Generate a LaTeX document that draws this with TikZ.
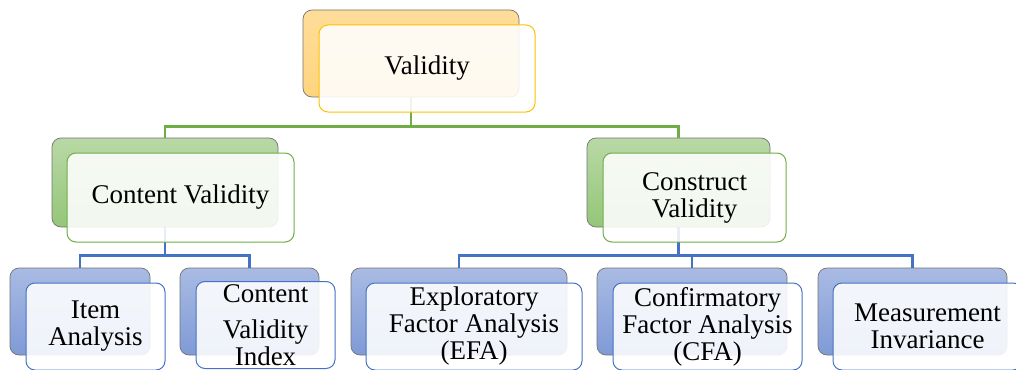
\documentclass[tikz,border=0pt]{standalone}
\usepackage{fontspec}
\setmainfont{Liberation Serif}
\definecolor{goldline}{HTML}{FFC000}
\definecolor{greenline}{HTML}{70AD47}
\definecolor{blueline}{HTML}{4472C4}
\definecolor{goldtop}{HTML}{FFDD99}
\definecolor{goldbot}{HTML}{FFD47F}
\definecolor{greentop}{HTML}{B9D8A6}
\definecolor{greenbot}{HTML}{94C678}
\definecolor{bluetop}{HTML}{A9BBE3}
\definecolor{bluebot}{HTML}{7F9AD6}
\tikzstyle{backbox} = [rectangle, rounded corners=9pt,
draw=black!55,
line width=0.7pt,
inner sep=0pt]
\tikzstyle{frontbox} = [rectangle, rounded corners=9pt,
line width=1pt,
fill=white,
fill opacity=0.88,
text opacity=1,
inner sep=0pt,
align=center,
font=\fontsize{27}{27}\selectfont]
\tikzstyle{goldback} = [backbox, top color=goldtop, bottom color=goldbot]
\tikzstyle{greenback} = [backbox, top color=greentop, bottom color=greenbot]
\tikzstyle{blueback} = [backbox, top color=bluetop, bottom color=bluebot]
\tikzstyle{goldfront} = [frontbox, draw=goldline]
\tikzstyle{greenfront} = [frontbox, draw=greenline]
\tikzstyle{bluefront} = [frontbox, draw=blueline]
\tikzstyle{greenlink} = [draw=greenline, line width=2.6pt]
\tikzstyle{bluelink} = [draw=blueline, line width=2.6pt]

\begin{document}
\begin{tikzpicture}[x=1pt, y=-1pt]
\useasboundingbox (0,0) rectangle (1016,369);

% back boxes
\node (valB) [goldback, minimum width=216pt, minimum height=87pt] at (411,53.5) {};
\node (cvB) [greenback, minimum width=226pt, minimum height=89pt] at (165,182.5) {};
\node (ctB) [greenback, minimum width=183pt, minimum height=89pt] at (678.5,182.5) {};
\node (itB) [blueback, minimum width=140pt, minimum height=87pt] at (80,311.5) {};
\node (cviB) [blueback, minimum width=139pt, minimum height=87pt] at (249.5,311.5) {};
\node (efaB) [blueback, minimum width=216pt, minimum height=87pt] at (459,311.5) {};
\node (cfaB) [blueback, minimum width=190pt, minimum height=87pt] at (692,311.5) {};
\node (miB) [blueback, minimum width=189pt, minimum height=87pt] at (912.5,311.5) {};

% connectors
\draw[greenlink] (valB.south) -- ++(0,29) -| (cvB.north);
\draw[greenlink] (valB.south) -- ++(0,29) -| (ctB.north);
\draw[bluelink] (cvB.south) -- ++(0,28) -| (itB.north);
\draw[bluelink] (cvB.south) -- ++(0,28) -| (cviB.north);
\draw[bluelink] (ctB.south) -- ++(0,28) -| (efaB.north);
\draw[bluelink] (ctB.south) -- ++(0,28) -| (cfaB.north);
\draw[bluelink] (ctB.south) -- ++(0,28) -| (miB.north);

% front boxes
\node (val) [goldfront, minimum width=216pt, minimum height=87pt] at (427,68.5) {Validity};
\node (cv) [greenfront, minimum width=227pt, minimum height=89pt] at (180.5,197.5) {Content Validity};
\node (ct) [greenfront, minimum width=183pt, minimum height=89pt] at (694.5,197.5) {Construct\\Validity};
\node (it) [bluefront, minimum width=139pt, minimum height=87pt] at (95.5,326.5) {Item\\Analysis};
\node (cvi) [bluefront, minimum width=139pt, minimum height=87pt] at (265.5,325) {Content\\[9pt]Validity\\Index};
\node (efa) [bluefront, minimum width=216pt, minimum height=87pt] at (474,326.5) {Exploratory\\Factor Analysis\\(EFA)};
\node (cfa) [bluefront, minimum width=189pt, minimum height=87pt] at (707.5,326.5) {Confirmatory\\Factor Analysis\\(CFA)};
\node (mi) [bluefront, minimum width=189pt, minimum height=87pt] at (927.5,326.5) {Measurement\\Invariance};
\end{tikzpicture}
\end{document}
